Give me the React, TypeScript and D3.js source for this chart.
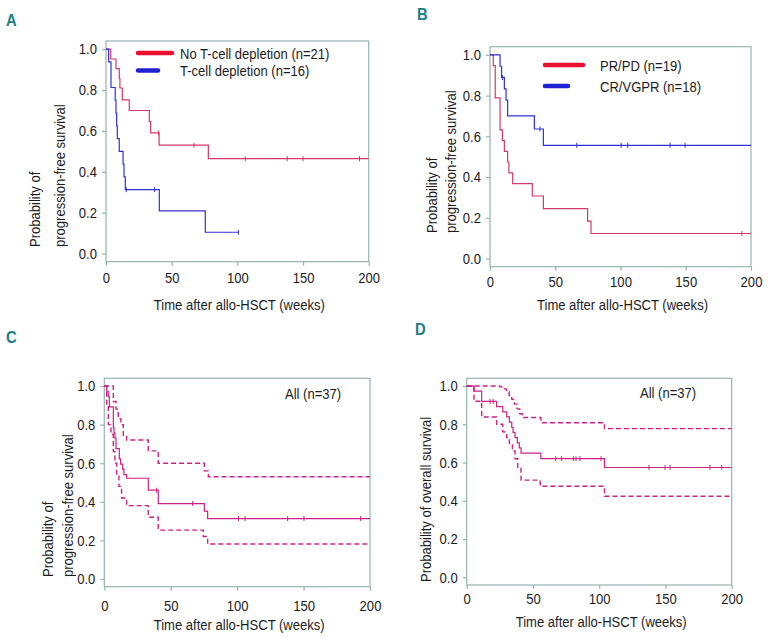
import React, { useEffect, useRef } from 'react';
import * as d3 from 'd3';

// ---- data ----
const xTicks = [0, 50, 100, 150, 200];
const yTicks = [0, 0.2, 0.4, 0.6, 0.8, 1.0];

// A: PFS by T-cell depletion
const aNoTcdTime = [0, 3.6, 7.6, 10.1, 10.6, 12.4, 17.7, 33, 34, 40.4, 77.9, 200];
const aNoTcdSurv = [1, 0.952, 0.905, 0.857, 0.81, 0.752, 0.70, 0.645, 0.59, 0.53, 0.464, 0.464];
const aNoTcdCens = [40, 67, 106, 138, 150, 193];
const aTcdTime = [0, 2, 3.8, 7, 7.6, 8.1, 8.6, 10.1, 13, 13.7, 14.7, 40.6, 75.6, 100.8];
const aTcdSurv = [1, 0.9375, 0.8125, 0.75, 0.6875, 0.625, 0.5625, 0.5, 0.4375, 0.375, 0.3125, 0.2083, 0.1042, 0.1042];
const aTcdCens = [15.4, 37, 100.8];

// B: PFS by response
const bPrTime = [0, 2.5, 4, 7.7, 9.5, 11, 13.5, 14.5, 17.4, 32.4, 40.9, 74.8, 77.4, 200];
const bPrSurv = [1, 0.947, 0.789, 0.632, 0.579, 0.526, 0.474, 0.421, 0.368, 0.307, 0.245, 0.184, 0.123, 0.123];
const bPrCens = [193];
const bCrTime = [0, 7.7, 8.9, 11, 12.3, 13.5, 34, 40.9, 200];
const bCrSurv = [1, 0.944, 0.889, 0.833, 0.778, 0.70, 0.636, 0.556, 0.556];
const bCrCens = [9.5, 38.3, 66.5, 100.5, 105.5, 138, 149.5];

// C: PFS all patients with 95% CI
const cAllTime = [0, 1.8, 3, 3.8, 6.8, 7.3, 8, 8.8, 11.3, 12.3, 13.8, 14.8, 16.8, 33.1, 40.6, 75.3, 77.8, 200];
const cAllSurv = [1, 0.973, 0.946, 0.892, 0.784, 0.757, 0.73, 0.676, 0.622, 0.595, 0.568, 0.541, 0.522, 0.46, 0.391, 0.352, 0.313, 0.313];
const cAllCens = [39.4, 66.5, 101, 106, 138, 150.3, 193];
const cUpTime = [0, 6.8, 8.8, 10.5, 12.5, 14.3, 16.8, 33.1, 40.6, 75.3, 78.3, 200];
const cUpSurv = [1, 0.92, 0.88, 0.83, 0.80, 0.745, 0.72, 0.664, 0.60, 0.56, 0.53, 0.53];
const cLoTime = [0, 1.8, 3, 5, 6.8, 8, 9.3, 11, 13, 16.8, 33.1, 40.6, 74.5, 77.8, 200];
const cLoSurv = [1, 0.9, 0.8, 0.75, 0.66, 0.6, 0.54, 0.48, 0.42, 0.38, 0.32, 0.253, 0.22, 0.181, 0.181];

// D: OS all patients with 95% CI
const dAllTime = [0, 5.5, 11.3, 22.6, 27.2, 30.2, 32.2, 34, 35, 36.5, 38.2, 39.7, 41, 56, 104, 200];
const dAllSurv = [1, 0.973, 0.919, 0.892, 0.865, 0.838, 0.811, 0.784, 0.757, 0.730, 0.703, 0.676, 0.649, 0.620, 0.574, 0.574];
const dAllCens = [17.6, 20, 67.2, 71.7, 80.5, 82.5, 85.5, 101.4, 137.6, 149.7, 153.5, 183.6, 192.5];
const dUpTime = [0, 25, 28, 30, 32, 34, 36, 38, 40, 42, 56, 104, 200];
const dUpSurv = [1, 0.995, 0.985, 0.97, 0.95, 0.93, 0.905, 0.88, 0.855, 0.835, 0.808, 0.777, 0.777];
const dLoTime = [0, 5.5, 11.3, 22.6, 27.2, 30.2, 32.2, 34.5, 36.5, 38.5, 41, 55.5, 104, 200];
const dLoSurv = [1, 0.92, 0.838, 0.80, 0.76, 0.73, 0.70, 0.66, 0.62, 0.57, 0.508, 0.476, 0.424, 0.424];

const FONT = "'Liberation Sans', Arial, sans-serif";
const FS = "15px";
const SX = 0.87; // squeeze to mimic a condensed face
const BOX = "#94b4b0";
const INK = "#1c1c1c";
const RED = "#d2386c";
const BLUE = "#3232d2";
const MAG = "#cc2288";

type Series = { time: number[]; surv: number[]; cens?: number[]; color: string; dash?: string };
type PanelDef = {
	letter: string; lx: number; ly: number;
	left: number; right: number; top: number; bottom: number;
	yTitle: string[]; yTitleX: number[]; yTitleY: number;
	xTitleY: number; xPad: number;
	series: Series[];
	legend?: { label: string; color: string; len: number }[];
	legendX?: number; legendY?: number; legendGap?: number; legendTextX?: number;
	note?: string; noteX?: number; noteY?: number;
};

const panels: PanelDef[] = [
	{
		letter: "A", lx: 6, ly: 26, left: 106, right: 368.7, top: 41, bottom: 261.7,
		yTitle: ["Probability of", "progression-free survival"], yTitleX: [40, 65], yTitleY: 247,
		xTitleY: 310, xPad: 7,
		series: [
			{ time: aNoTcdTime, surv: aNoTcdSurv, cens: aNoTcdCens, color: RED },
			{ time: aTcdTime, surv: aTcdSurv, cens: aTcdCens, color: BLUE },
		],
		legend: [
			{ label: "No T-cell depletion (n=21)", color: "#ea1030", len: 34 },
			{ label: "T-cell depletion (n=16)", color: "#2020d4", len: 20 },
		],
		legendX: 138, legendY: 53, legendGap: 17.5, legendTextX: 180,
	},
	{
		letter: "B", lx: 417, ly: 20, left: 490, right: 751, top: 46.7, bottom: 266.7,
		yTitle: ["Probability of", "progression-free survival"], yTitleX: [437, 456], yTitleY: 233,
		xTitleY: 310, xPad: 6,
		series: [
			{ time: bPrTime, surv: bPrSurv, cens: bPrCens, color: RED },
			{ time: bCrTime, surv: bCrSurv, cens: bCrCens, color: BLUE },
		],
		legend: [
			{ label: "PR/PD (n=19)", color: "#ea1030", len: 38 },
			{ label: "CR/VGPR (n=18)", color: "#2020d4", len: 23 },
		],
		legendX: 545, legendY: 65, legendGap: 21, legendTextX: 600,
	},
	{
		letter: "C", lx: 6, ly: 343, left: 104.3, right: 370, top: 378.3, bottom: 586.7,
		yTitle: ["Probability of", "progression-free survival"], yTitleX: [52.5, 72.5], yTitleY: 577,
		xTitleY: 630, xPad: 10,
		series: [
			{ time: cUpTime, surv: cUpSurv, color: MAG, dash: "5,3" },
			{ time: cLoTime, surv: cLoSurv, color: MAG, dash: "5,3" },
			{ time: cAllTime, surv: cAllSurv, cens: cAllCens, color: MAG },
		],
		note: "All (n=37)", noteX: 285, noteY: 399,
	},
	{
		letter: "D", lx: 415, ly: 335, left: 466.7, right: 731.7, top: 378.3, bottom: 585,
		yTitle: ["Probability of overall survival"], yTitleX: [431], yTitleY: 582,
		xTitleY: 627, xPad: 4,
		series: [
			{ time: dUpTime, surv: dUpSurv, color: MAG, dash: "5,3" },
			{ time: dLoTime, surv: dLoSurv, color: MAG, dash: "5,3" },
			{ time: dAllTime, surv: dAllSurv, cens: dAllCens, color: MAG },
		],
		note: "All (n=37)", noteX: 640, noteY: 398,
	},
];

function survAt(s: Series, t: number) {
	const i = Math.max(0, d3.bisectRight(s.time, t) - 1);
	return s.surv[i];
}

// squeeze text horizontally around its own anchor point
function narrow(sel: any, rotate = 0) {
	sel.each(function (this: any) {
		const t = d3.select(this);
		const x = +t.attr("x") || 0;
		const y = +t.attr("y") || 0;
		t.attr("x", null).attr("y", null)
			.attr("transform", "translate(" + x + "," + y + ")" + (rotate ? " rotate(" + rotate + ")" : "") + " scale(" + SX + ",1)");
	});
}

function addText(g: any, str: string, x: number, y: number, anchor = "start", rotate = 0) {
	const t = g.append("text").text(str)
		.attr("x", x).attr("y", y).attr("text-anchor", anchor)
		.attr("font-family", FONT).attr("font-size", FS).attr("fill", INK);
	narrow(t, rotate);
	return t;
}

function drawPanel(svg: any, p: PanelDef) {
	const x = d3.scaleLinear().domain([0, 200]).range([p.left, p.right]);
	const y = d3.scaleLinear().domain([-0.04, 1.04]).range([p.bottom, p.top]);
	const g = svg.append("g");

	const letter = g.append("text").text(p.letter)
		.attr("x", p.lx).attr("y", p.ly)
		.attr("font-family", FONT).attr("font-weight", "bold")
		.attr("font-size", "17px").attr("fill", "#1b8080");
	narrow(letter);

	// box
	g.append("rect")
		.attr("x", p.left).attr("y", p.top)
		.attr("width", p.right - p.left).attr("height", p.bottom - p.top)
		.attr("fill", "none").attr("stroke", BOX).attr("stroke-width", 1.2);

	const yAxis = d3.axisLeft(y).tickValues(yTicks).tickSize(4).tickPadding(5)
		.tickFormat(d3.format(".1f") as any);
	const ya = g.append("g").attr("transform", "translate(" + p.left + ",0)").call(yAxis);
	const xAxis = d3.axisBottom(x).tickValues(xTicks).tickSize(4).tickPadding(p.xPad);
	const xa = g.append("g").attr("transform", "translate(0," + p.bottom + ")").call(xAxis);
	[ya, xa].forEach((a) => {
		a.select(".domain").remove();
		a.selectAll("line").attr("stroke", BOX).attr("stroke-width", 1.2);
		a.attr("font-family", FONT).attr("font-size", FS);
		const tx = a.selectAll("text").attr("fill", INK);
		narrow(tx);
	});

	// titles
	addText(g, "Time after allo-HSCT (weeks)", (p.left + p.right) / 2 + 2, p.xTitleY, "middle");
	p.yTitle.forEach((line, i) => addText(g, line, p.yTitleX[i], p.yTitleY, "start", -90));

	// curves
	const path = d3.line<[number, number]>().x((d) => x(d[0])).y((d) => y(d[1])).curve(d3.curveStepAfter);
	p.series.forEach((s) => {
		const pts = s.time.map((t, i) => [t, s.surv[i]] as [number, number]);
		g.append("path").attr("d", path(pts))
			.attr("fill", "none").attr("stroke", s.color)
			.attr("stroke-width", s.dash ? 1.4 : 1.2)
			.attr("stroke-dasharray", s.dash || null);
		(s.cens || []).forEach((c) => {
			const cy = y(survAt(s, c));
			g.append("line")
				.attr("x1", x(c)).attr("x2", x(c))
				.attr("y1", cy - 2.5).attr("y2", cy + 2.5)
				.attr("stroke", s.color).attr("stroke-width", 1);
		});
	});

	if (p.legend) {
		p.legend.forEach((l, i) => {
			const ly = (p.legendY as number) + i * (p.legendGap as number);
			g.append("line")
				.attr("x1", p.legendX).attr("x2", (p.legendX as number) + l.len)
				.attr("y1", ly).attr("y2", ly)
				.attr("stroke", l.color).attr("stroke-width", 4.5).attr("stroke-linecap", "round");
			addText(g, l.label, p.legendTextX as number, ly + 5.5);
		});
	}
	if (p.note) addText(g, p.note, p.noteX as number, p.noteY as number);
}

export default function App() {
	const ref = useRef<SVGSVGElement>(null);
	useEffect(() => {
		const svg = d3.select(ref.current);
		svg.selectAll("*").remove();
		panels.forEach((p) => drawPanel(svg, p));
	}, []);
	return (
		<svg ref={ref} width={770} height={638}
			style={{ position: "absolute", left: 0, top: 0, background: "#fff" }} />
	);
}
